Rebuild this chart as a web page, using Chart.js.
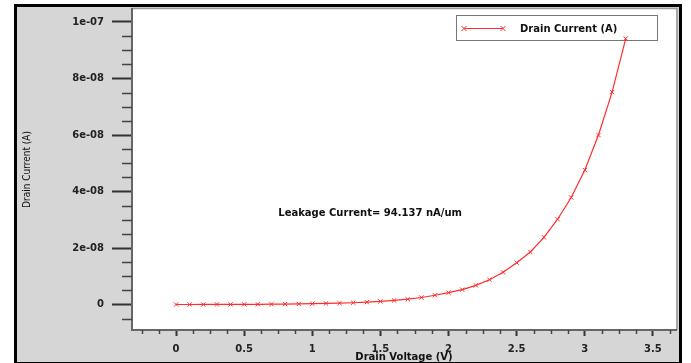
<!DOCTYPE html>
<html>
<head>
<meta charset="utf-8">
<script src="https://cdn.jsdelivr.net/npm/chart.js@4.4.1/dist/chart.umd.min.js"></script>
<style>
  body { margin: 0; background: #fff; }
  canvas { display: block; }
</style>
</head>
<body>
<canvas id="ivChart" width="691" height="363"></canvas>
<script>
// drain voltage sweep (V)
var drainVoltage = [0, 0.1, 0.2, 0.3, 0.4, 0.5, 0.6, 0.7, 0.8, 0.9, 1.0, 1.1, 1.2, 1.3, 1.4, 1.5, 1.6,
  1.7, 1.8, 1.9, 2.0, 2.1, 2.2, 2.3, 2.4, 2.5, 2.6, 2.7, 2.8, 2.9, 3.0, 3.1, 3.2, 3.3]
// drain current (A)
var drainCurrent = [2e-11, 3e-11, 4e-11, 5e-11, 6e-11, 8e-11, 1.0e-10, 1.3e-10, 1.7e-10, 2.2e-10,
  3e-10, 4e-10, 5e-10, 6.5e-10, 8.5e-10, 1.1e-9, 1.45e-9, 1.9e-9, 2.5e-9, 3.3e-9,
  4.2e-9, 5.3e-9, 6.8e-9, 8.8e-9, 1.14e-8, 1.48e-8, 1.86e-8, 2.38e-8, 3.02e-8, 3.79e-8,
  4.76e-8, 6.0e-8, 7.52e-8, 9.4137e-8]

var xTickValues = [0, 0.5, 1, 1.5, 2, 2.5, 3, 3.5]
var xTickLabels = ['0', '0.5', '1', '1.5', '2', '2.5', '3', '3.5']
var yTickValues = [0, 2e-8, 4e-8, 6e-8, 8e-8, 1e-7]
var yTickLabels = ['0', '2e-08', '4e-08', '6e-08', '8e-08', '1e-07']

var seriesLabel = 'Drain Current (A)'
var noteText = 'Leakage Current= 94.137 nA/um'

var lineColor = 'rgb(255, 45, 45)'
var boldFont = 'bold 10px "DejaVu Sans"'

var points = drainVoltage.map(function (v, i) {
  return { x: v, y: drainCurrent[i] }
})

// frame, gray panel, white plot area
var framePlugin = {
  id: 'frame',
  beforeDraw: function (chart) {
    var c = chart.ctx
    var a = chart.chartArea
    c.save()
    c.fillStyle = '#ffffff'
    c.fillRect(0, 0, chart.width, chart.height)
    c.fillStyle = '#d6d6d6'
    c.fillRect(15, 5, 666, 358)
    c.strokeStyle = '#000'
    c.lineWidth = 3
    c.strokeRect(15.5, 5.5, 665, 358)
    c.fillStyle = '#ffffff'
    c.fillRect(a.left, a.top, a.right - a.left, a.bottom - a.top)
    c.strokeStyle = '#999'
    c.lineWidth = 1.5
    c.beginPath()
    c.moveTo(a.left, a.top - 0.5)
    c.lineTo(a.right + 1, a.top - 0.5)
    c.lineTo(a.right + 1, a.bottom)
    c.stroke()
    c.restore()
  },
  beforeDatasetsDraw: function (chart) {
    var c = chart.ctx
    var xs = chart.scales.x
    var ys = chart.scales.y
    var a = chart.chartArea
    c.save()
    // minor ticks
    c.strokeStyle = '#444'
    c.lineWidth = 1.5
    c.beginPath()
    for (var k = -2; k <= 29; k++) {
      if (k % 4 === 0) continue
      var px = Math.round(xs.getPixelForValue(k * 0.125)) + 0.5
      if (px < a.left || px > a.right) continue
      c.moveTo(px, a.bottom)
      c.lineTo(px, a.bottom + 4)
    }
    for (var m = -1; m <= 20; m++) {
      if (m % 4 === 0) continue
      var py = Math.round(ys.getPixelForValue(m * 0.5e-8)) + 0.5
      if (py < a.top || py > a.bottom) continue
      c.moveTo(a.left - 10, py)
      c.lineTo(a.left, py)
    }
    c.stroke()

    // note
    c.fillStyle = '#111'
    c.font = boldFont
    c.textBaseline = 'middle'
    c.textAlign = 'left'
    c.fillText(noteText, xs.getPixelForValue(0.75), ys.getPixelForValue(3.23e-8))

    // legend box
    c.fillStyle = '#fff'
    c.fillRect(456, 15, 201, 25)
    c.strokeStyle = '#777'
    c.lineWidth = 1
    c.strokeRect(456.5, 15.5, 201, 25)
    c.strokeStyle = lineColor
    c.beginPath()
    c.moveTo(464, 28.5)
    c.lineTo(503, 28.5)
    c.stroke()
    ;[464, 503].forEach(function (lx) {
      c.beginPath()
      c.moveTo(lx - 2.5, 26)
      c.lineTo(lx + 2.5, 31)
      c.moveTo(lx - 2.5, 31)
      c.lineTo(lx + 2.5, 26)
      c.stroke()
    })
    c.fillStyle = '#111'
    c.fillText(seriesLabel, 520, 29)
    c.restore()
  }
}

var ctx = document.getElementById('ivChart').getContext('2d')
var ivChart = new Chart(ctx, {
  type: 'line',
  data: {
    datasets: [
      {
        label: seriesLabel,
        data: points,
        borderColor: lineColor,
        borderWidth: 1.2,
        pointStyle: 'crossRot',
        pointRadius: 3,
        pointBorderWidth: 1,
        pointBorderColor: lineColor,
        tension: 0,
        fill: false
      }
    ]
  },
  options: {
    responsive: false,
    animation: false,
    layout: { padding: { left: 17, right: 15, top: 9, bottom: 0 } },
    plugins: {
      legend: { display: false },
      tooltip: { enabled: false }
    },
    scales: {
      x: {
        type: 'linear',
        min: -0.3235,
        max: 3.669,
        afterBuildTicks: function (scale) {
          scale.ticks = xTickValues.map(function (v) { return { value: v } })
        },
        afterFit: function (scale) {
          scale.height = 33
          scale.paddingLeft = 0
          scale.paddingRight = 0
        },
        grid: {
          drawOnChartArea: false,
          drawTicks: true,
          tickLength: 6,
          tickColor: '#333',
          tickWidth: 2
        },
        border: { display: true, color: '#666', width: 2 },
        ticks: {
          padding: 7,
          maxRotation: 0,
          autoSkip: false,
          color: '#222',
          font: { family: 'DejaVu Sans', size: 10, weight: 'bold' },
          callback: function (v) {
            var i = xTickValues.indexOf(v)
            return i >= 0 ? xTickLabels[i] : ''
          }
        },
        title: {
          display: true,
          text: 'Drain Voltage (V)',
          color: '#111',
          padding: 0,
          font: { family: 'DejaVu Sans', size: 10, weight: 'bold', lineHeight: 1.1 }
        }
      },
      y: {
        type: 'linear',
        min: -0.9e-8,
        max: 1.046e-7,
        afterBuildTicks: function (scale) {
          scale.ticks = yTickValues.map(function (v) { return { value: v } })
        },
        afterFit: function (scale) {
          scale.width = 115
          scale.paddingTop = 0
          scale.paddingBottom = 0
        },
        grid: {
          drawOnChartArea: false,
          drawTicks: true,
          tickLength: 20,
          tickColor: '#333',
          tickWidth: 2
        },
        border: { display: true, color: '#666', width: 2 },
        ticks: {
          padding: 8,
          autoSkip: false,
          color: '#222',
          font: { family: 'DejaVu Sans', size: 10, weight: 'bold' },
          callback: function (v) {
            var i = yTickValues.indexOf(v)
            return i >= 0 ? yTickLabels[i] : ''
          }
        },
        title: {
          display: true,
          text: 'Drain Current (A)',
          color: '#111',
          padding: { top: 4, bottom: 0 },
          font: { family: '"Liberation Sans Narrow", "DejaVu Sans Condensed", sans-serif', size: 10 }
        }
      }
    }
  },
  plugins: [framePlugin]
})
</script>
</body>
</html>
